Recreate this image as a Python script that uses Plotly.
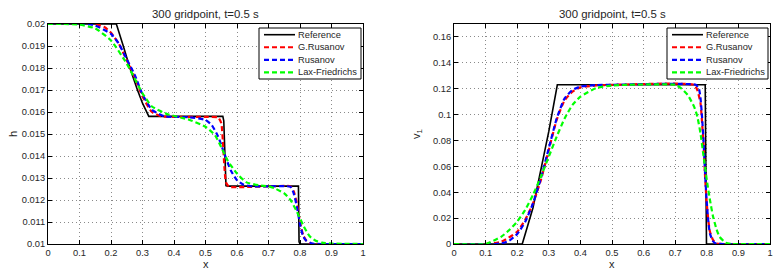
import plotly.graph_objects as go

# ---------------- data: left panel (h) ----------------
x_ref_h = [0, 0.217, 0.239, 0.26, 0.284, 0.30, 0.32, 0.33, 0.555, 0.558, 0.562, 0.565, 0.57, 0.795, 0.797, 0.8, 1]
h_ref = [0.02, 0.02, 0.019, 0.018, 0.017, 0.0164, 0.0158, 0.0158, 0.0158, 0.0156, 0.0135, 0.01265, 0.01263, 0.01263, 0.0101, 0.01, 0.01]

x_gr_h = [0, 0.15, 0.18, 0.2, 0.225, 0.25, 0.275, 0.3, 0.33, 0.36, 0.4, 0.5, 0.54, 0.55, 0.555, 0.56, 0.565, 0.575, 0.6, 0.63, 0.7, 0.77, 0.78, 0.79, 0.8, 0.81, 0.82, 0.83, 1]
h_gr = [0.02, 0.02, 0.01985, 0.0196, 0.0191, 0.01835, 0.0176, 0.0167, 0.0160, 0.0158, 0.01578, 0.01578, 0.01575, 0.0155, 0.0147, 0.0135, 0.0128, 0.0126, 0.01258, 0.01259, 0.01262, 0.01262, 0.0124, 0.01185, 0.0110, 0.0104, 0.01015, 0.01002, 0.01]

x_ru_h = [0, 0.12, 0.15, 0.2, 0.225, 0.25, 0.275, 0.3, 0.33, 0.37, 0.4, 0.45, 0.5, 0.52, 0.54, 0.56, 0.58, 0.6, 0.62, 0.65, 0.7, 0.77, 0.78, 0.79, 0.8, 0.81, 0.82, 0.84, 1]
h_ru = [0.02, 0.02, 0.01993, 0.01955, 0.0191, 0.0184, 0.0177, 0.0168, 0.0161, 0.0158, 0.01578, 0.01576, 0.01564, 0.0154, 0.01489, 0.0141, 0.01335, 0.0129, 0.0127, 0.01262, 0.01262, 0.0126, 0.0123, 0.0117, 0.0109, 0.01035, 0.01015, 0.01002, 0.01]

x_lf_h = [0, 0.05, 0.1, 0.15, 0.2, 0.25, 0.3, 0.33, 0.38, 0.45, 0.5, 0.53, 0.55, 0.57, 0.6, 0.63, 0.67, 0.7, 0.72, 0.75, 0.77, 0.79, 0.8, 0.81, 0.83, 0.85, 0.87, 0.9, 1]
h_lf = [0.02, 0.02, 0.01997, 0.0198, 0.01925, 0.0182, 0.01685, 0.01625, 0.0159, 0.01564, 0.01533, 0.01495, 0.0144, 0.0138, 0.0132, 0.0128, 0.01267, 0.01262, 0.01253, 0.0123, 0.012, 0.01147, 0.01117, 0.01086, 0.01036, 0.01015, 0.01006, 0.01002, 0.01]

# ---------------- data: right panel (v1) ----------------
x_ref_v = [0, 0.216, 0.25, 0.277, 0.30, 0.327, 0.795, 0.797, 0.799, 1]
v_ref = [0, 0, 0.028, 0.06, 0.087, 0.123, 0.123, 0.06, 0, 0]

x_gr_v = [0, 0.1, 0.15, 0.2, 0.225, 0.25, 0.275, 0.3, 0.325, 0.35, 0.375, 0.4, 0.45, 0.5, 0.76, 0.77, 0.78, 0.785, 0.79, 0.795, 0.8, 0.805, 0.81, 0.82, 0.83, 1]
v_gr = [0, 0, 0.0018, 0.0095, 0.0186, 0.0314, 0.0495, 0.0727, 0.096, 0.111, 0.1177, 0.121, 0.1225, 0.123, 0.123, 0.119, 0.109, 0.094, 0.075, 0.05, 0.031, 0.018, 0.0095, 0.003, 0.0005, 0]

x_ru_v = [0, 0.13, 0.15, 0.175, 0.2, 0.225, 0.25, 0.275, 0.3, 0.325, 0.35, 0.375, 0.4, 0.45, 0.5, 0.765, 0.775, 0.78, 0.785, 0.79, 0.795, 0.8, 0.805, 0.81, 0.82, 0.83, 1]
v_ru = [0, 0, 0.0005, 0.0026, 0.0077, 0.017, 0.0314, 0.0508, 0.0740, 0.097, 0.1125, 0.1190, 0.1216, 0.1228, 0.123, 0.123, 0.120, 0.113, 0.098, 0.078, 0.052, 0.032, 0.017, 0.008, 0.002, 0.0003, 0]

x_lf_v = [0, 0.1, 0.125, 0.15, 0.175, 0.2, 0.225, 0.25, 0.275, 0.3, 0.325, 0.35, 0.375, 0.4, 0.45, 0.5, 0.55, 0.7, 0.72, 0.74, 0.76, 0.77, 0.78, 0.79, 0.8, 0.81, 0.82, 0.83, 0.84, 0.86, 0.88, 1]
v_lf = [0, 0, 0.0026, 0.0057, 0.0108, 0.0173, 0.0263, 0.038, 0.052, 0.0675, 0.083, 0.097, 0.1075, 0.1138, 0.1205, 0.1225, 0.123, 0.123, 0.12, 0.115, 0.106, 0.0985, 0.0856, 0.0675, 0.0495, 0.034, 0.021, 0.012, 0.0057, 0.001, 0, 0]

names = ["Reference", "G.Rusanov", "Rusanov", "Lax-Friedrichs"]
colors = ["#000000", "#ff0000", "#0000ff", "#00ff00"]

x_ticks = [0, 0.1, 0.2, 0.3, 0.4, 0.5, 0.6, 0.7, 0.8, 0.9, 1]
x_ticktext = ["0", "0.1", "0.2", "0.3", "0.4", "0.5", "0.6", "0.7", "0.8", "0.9", "1"]
h_ticks = [0.01, 0.011, 0.012, 0.013, 0.014, 0.015, 0.016, 0.017, 0.018, 0.019, 0.02]
h_ticktext = ["0.01", "0.011", "0.012", "0.013", "0.014", "0.015", "0.016", "0.017", "0.018", "0.019", "0.02"]
v_ticks = [0, 0.02, 0.04, 0.06, 0.08, 0.1, 0.12, 0.14, 0.16]
v_ticktext = ["0", "0.02", "0.04", "0.06", "0.08", "0.1", "0.12", "0.14", "0.16"]

title_text = "300 gridpoint, t=0.5 s"
x_label = "x"
h_label = "h"
v_label = "v<sub>1</sub>"

W, H = 782, 273
FONT = "Liberation Sans, Arial, sans-serif"
TXT = "#262626"
DASH = "5px,3px"

def px_x(p):
    return p / W

def px_y(p):
    return 1 - p / H

fig = go.Figure()

left_sets = [(x_ref_h, h_ref), (x_gr_h, h_gr), (x_ru_h, h_ru), (x_lf_h, h_lf)]
right_sets = [(x_ref_v, v_ref), (x_gr_v, v_gr), (x_ru_v, v_ru), (x_lf_v, v_lf)]

for sets, xa, ya in [(left_sets, "x", "y"), (right_sets, "x2", "y2")]:
    for i, (xs, ys) in enumerate(sets):
        ref = i == 0
        fig.add_trace(go.Scatter(
            x=xs, y=ys, mode="lines", name=names[i], showlegend=False,
            line=dict(color=colors[i], width=1.6 if ref else 2.2,
                      dash="solid" if ref else DASH,
                      shape="linear" if ref else "spline", smoothing=0.5),
            xaxis=xa, yaxis=ya))

ax_common = dict(
    showline=True, linecolor="#000000", linewidth=1, mirror="ticks",
    ticks="inside", ticklen=4, tickcolor="#000000", automargin=False,
    showgrid=True, gridcolor="#8a8a8a", griddash="1px,3px", gridwidth=1,
    zeroline=False, tickfont=dict(family=FONT, size=9.3, color=TXT),
)

ydom = [px_y(244), px_y(24)]

annotations = []
shapes = []

# titles and axis labels
for cx, lab, lx in [((48 + 363) / 2, h_label, 13), ((454 + 770) / 2, v_label, 417)]:
    annotations.append(dict(text=title_text, x=px_x(cx), y=px_y(14), xref="paper", yref="paper",
                            showarrow=False, font=dict(family=FONT, size=11.4, color=TXT),
                            xanchor="center", yanchor="middle"))
    annotations.append(dict(text=x_label, x=px_x(cx), y=px_y(264), xref="paper", yref="paper",
                            showarrow=False, font=dict(family=FONT, size=11, color=TXT),
                            xanchor="center", yanchor="middle"))
    annotations.append(dict(text=lab, x=px_x(lx), y=px_y(134), xref="paper", yref="paper",
                            showarrow=False, textangle=-90, font=dict(family=FONT, size=11, color=TXT),
                            xanchor="center", yanchor="middle"))

# legends (box, line samples, labels)
for bx0, bx1 in [(259, 361), (667, 768)]:
    shapes.append(dict(type="rect", xref="paper", yref="paper",
                       x0=px_x(bx0), x1=px_x(bx1), y0=px_y(79), y1=px_y(28),
                       line=dict(color="#000000", width=1), fillcolor="white", layer="above"))
    for i, name in enumerate(names):
        yc = 34.7 + i * 12.55
        shapes.append(dict(type="line", xref="paper", yref="paper",
                           x0=px_x(bx0 + 5), x1=px_x(bx0 + 36), y0=px_y(yc), y1=px_y(yc),
                           line=dict(color=colors[i], width=1.6 if i == 0 else 2.2,
                                     dash="solid" if i == 0 else DASH),
                           layer="above"))
        annotations.append(dict(text=name, x=px_x(bx0 + 37), y=px_y(yc), xref="paper", yref="paper",
                                showarrow=False, font=dict(family=FONT, size=9.3, color=TXT),
                                xanchor="left", yanchor="middle"))

fig.update_layout(
    width=W, height=H,
    margin=dict(l=0, r=0, t=0, b=0, autoexpand=False),
    paper_bgcolor="white", plot_bgcolor="white",
    font=dict(family=FONT, size=10, color=TXT),
    xaxis=dict(domain=[px_x(48), px_x(363)], range=[0, 1], tickvals=x_ticks, ticktext=x_ticktext,
               anchor="y", **ax_common),
    yaxis=dict(domain=ydom, range=[0.01, 0.02], tickvals=h_ticks, ticktext=h_ticktext,
               anchor="x", **ax_common),
    xaxis2=dict(domain=[px_x(454), px_x(770)], range=[0, 1], tickvals=x_ticks, ticktext=x_ticktext,
                anchor="y2", **ax_common),
    yaxis2=dict(domain=ydom, range=[0, 0.17], tickvals=v_ticks, ticktext=v_ticktext,
                anchor="x2", **ax_common),
    showlegend=False,
    annotations=annotations,
    shapes=shapes,
)

fig.write_html(
    "out.html",
    config={"displayModeBar": False},
    post_script="document.body.style.margin='0';document.body.style.overflow='hidden';",
)
